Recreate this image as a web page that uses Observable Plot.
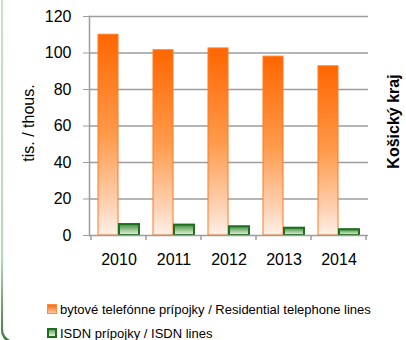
<!DOCTYPE html>
<html>
<head>
<meta charset="utf-8">
<script src="https://cdn.jsdelivr.net/npm/d3@7"></script>
<script src="https://cdn.jsdelivr.net/npm/@observablehq/plot@0.6"></script>
<style>
  html, body { margin: 0; padding: 0; width: 406px; height: 340px; overflow: hidden; background: #fff; }
  body { position: relative; font-family: "Liberation Sans", Arial, sans-serif; }
  #border { position: absolute; left: 1px; top: 0; width: 460px; height: 344px; border-radius: 0 0 0 14px;
    background: linear-gradient(to bottom, #c6e5c6 0%, #b4dbb4 75%, #2e7d32 100%); z-index: 0; }
  #inner { position: absolute; left: 3px; top: 0; width: 460px; height: 341px; border-radius: 0 0 0 12px; background: #fff; z-index: 1; }
  #chart { position: absolute; left: 0; top: 0; z-index: 2; }
  #legend { position: absolute; left: 47px; top: 297px; z-index: 2; font-size: 13px; color: #000; }
  .row { display: flex; align-items: center; height: 24px; white-space: nowrap; }
  .sw { width: 10px; height: 10px; box-sizing: border-box; margin-right: 3px; flex: none; }
  .sw.o { background: linear-gradient(to bottom, #ff6a10, #fdc9a4); border: 1px solid #ff8a3a; }
  .sw.g { background: linear-gradient(to bottom, #6aa86a, #e8f2dc); border: 2px solid #1e6e1e; }
</style>
</head>
<body>
<div id="border"></div>
<div id="inner"></div>
<div id="chart"></div>
<div id="legend"></div>
<script>
const years = [2010, 2011, 2012, 2013, 2014];
const residential = [110, 101.5, 102.5, 98, 92.7];
const isdn = [6.0, 5.7, 4.8, 4.0, 3.2];
const yTicks = [0, 20, 40, 60, 80, 100, 120];
const seriesLabels = ["bytové telefónne prípojky / Residential telephone lines", "ISDN prípojky / ISDN lines"];
const yLabel = "tis. / thous.";
const regionTitle = "Košický kraj";

const rows = years.map((year, i) => ({year, residential: residential[i], isdn: isdn[i]}));
const gray = "#9d9d9d";

function defs() {
  const ns = "http://www.w3.org/2000/svg";
  const d = document.createElementNS(ns, "defs");
  const mk = (id, stops) => {
    const lg = document.createElementNS(ns, "linearGradient");
    lg.setAttribute("id", id);
    lg.setAttribute("x1", "0"); lg.setAttribute("y1", "0");
    lg.setAttribute("x2", "0"); lg.setAttribute("y2", "1");
    for (const [o, c] of stops) {
      const s = document.createElementNS(ns, "stop");
      s.setAttribute("offset", o); s.setAttribute("stop-color", c);
      lg.appendChild(s);
    }
    d.appendChild(lg);
  };
  mk("gOrange", [[0, "#ff6600"], [0.5, "#ff9a4a"], [0.85, "#fdd2b4"], [1, "#fdf0e8"]]);
  mk("gGreen", [[0, "#3d8f3d"], [1, "#eef5e0"]]);
  return d;
}

function boundaryTicks(index, scales) {
  const x = scales.x, y = scales.y;
  const step = x(years[1]) - x(years[0]);
  const xs = years.map(v => x(v)).concat([x(years[years.length - 1]) + step]);
  const g = d3.create("svg:g");
  g.selectAll("line").data(xs).join("line")
    .attr("x1", d => d).attr("x2", d => d)
    .attr("y1", y(0)).attr("y2", y(0) + 5)
    .attr("stroke", gray).attr("stroke-width", 1.5);
  return g.node();
}

const chart = Plot.plot({
  width: 406,
  height: 270,
  marginLeft: 89,
  marginRight: 38,
  marginTop: 16,
  marginBottom: 35,
  style: {fontFamily: "'Liberation Sans', Arial, sans-serif", fontSize: "16px", color: "#000", background: "transparent"},
  x: {type: "band", domain: years, padding: 0, axis: null},
  y: {domain: [0, 120], axis: null},
  marks: [
    defs,
    Plot.gridY(yTicks.filter(t => t > 0), {stroke: gray, strokeOpacity: 1, strokeWidth: 1.5}),
    Plot.barY(rows, {x: "year", y: "residential", fill: "url(#gOrange)", stroke: "#ff7a22", strokeWidth: 1, insetLeft: 7, insetRight: 28}),
    Plot.barY(rows, {x: "year", y: "isdn", fill: "url(#gGreen)", stroke: "#1e6e1e", strokeWidth: 2, insetLeft: 28, insetRight: 7}),
    Plot.ruleY([0], {stroke: gray, strokeWidth: 1.5}),
    Plot.frame({anchor: "left", stroke: gray, strokeWidth: 1.5}),
    Plot.axisY({ticks: yTicks, tickSize: 6, tickPadding: 12, fontSize: 16, stroke: gray, label: null}),
    Plot.axisX({tickSize: 0, tickPadding: 18, fontSize: 16, label: null, tickFormat: d => String(d)}),
    boundaryTicks,
    Plot.text([yLabel], {text: d => d, frameAnchor: "left", textAnchor: "middle", dx: -61, dy: -3, rotate: -90, fontSize: 16, fill: "#000"}),
    Plot.text([regionTitle], {text: d => d, frameAnchor: "right", textAnchor: "middle", dx: 25, dy: -4.5, rotate: -90, fontSize: 16, fontWeight: "bold", fill: "#000"})
  ]
});
document.getElementById("chart").appendChild(chart);

const legend = document.getElementById("legend");
seriesLabels.forEach((label, i) => {
  const row = document.createElement("div");
  row.className = "row";
  const sw = document.createElement("span");
  sw.className = "sw " + (i === 0 ? "o" : "g");
  const t = document.createElement("span");
  t.textContent = label;
  row.appendChild(sw); row.appendChild(t);
  legend.appendChild(row);
});
</script>
</body>
</html>
